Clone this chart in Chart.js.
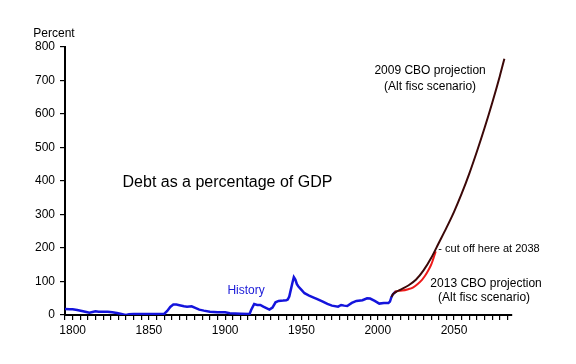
<!DOCTYPE html>
<html>
<head>
<meta charset="utf-8">
<script src="https://cdn.jsdelivr.net/npm/chart.js@4"></script>
<style>
  body { margin: 0; background: #fff; }
  canvas { display: block; }
</style>
</head>
<body>
<canvas id="debtChart" width="576" height="364"></canvas>
<script>
// history: debt as % of GDP
const historyYears = [1795, 1798, 1800, 1803, 1806, 1809, 1811, 1813, 1815, 1817, 1820, 1823, 1826, 1829, 1832, 1834, 1835, 1837, 1840, 1845, 1850, 1855, 1860, 1862, 1864, 1866, 1868, 1870, 1873, 1875, 1878, 1880, 1883, 1886, 1890, 1895, 1900, 1903, 1910, 1916, 1917, 1919, 1921, 1923, 1925, 1929, 1931, 1933, 1935, 1938, 1940, 1941, 1942, 1943, 1944, 1945, 1946, 1947, 1948, 1950, 1952, 1955, 1958, 1960, 1964, 1967, 1970, 1974, 1976, 1978, 1980, 1983, 1986, 1990, 1993, 1995, 1998, 2001, 2004, 2007, 2008, 2009, 2010, 2011, 2012];
const historyValues = [18, 17, 17, 15, 12, 9, 7, 9, 11, 10, 10, 10, 8, 6, 3, 1, 0, 2, 3, 3, 3, 3, 3, 12, 24, 31, 31, 29, 26, 25, 26, 22, 16, 13, 10, 8, 8, 5, 4, 3, 15, 33, 30, 30, 25, 16, 22, 38, 42, 43, 44, 46, 55, 75, 95, 113, 106, 92, 85, 75, 65, 58, 52, 48, 40, 33, 28, 25, 30, 28, 27, 36, 42, 44, 50, 49, 42, 34, 36, 36, 40, 54, 62, 67, 71];

// 2009 CBO projection (alt fiscal scenario)
const cbo2009Years = [2009, 2010, 2012, 2015, 2020, 2025, 2030, 2035, 2040, 2045, 2050, 2055, 2060, 2065, 2070, 2075, 2080, 2083];
const cbo2009Values = [54, 62, 69, 76, 88, 105, 133, 170, 215, 260, 308, 362, 422, 488, 558, 633, 713, 765];

// 2013 CBO projection (alt fiscal scenario), cut off at 2038
const cbo2013Years = [2011, 2013, 2016, 2020, 2023, 2026, 2029, 2031, 2033, 2035, 2036, 2037, 2038];
const cbo2013Values = [68, 72, 73, 77, 82, 92, 105, 117, 132, 150, 162, 176, 190];

const yTicks = [0, 100, 200, 300, 400, 500, 600, 700, 800];

const FONT = "'Liberation Sans', Arial, sans-serif";

function toPoints(xs, ys) {
    return xs.map((x, i) => ({ x: x, y: ys[i] }));
}

// text labels placed in data coordinates
const notes = [
    { text: "Debt as a percentage of GDP", x: 1901.5, y: 394, size: 16, color: "#000", align: "center" },
    { text: "History", x: 1913.7, y: 72, size: 12, color: "#1a1ad8", align: "center" },
    { text: "2009 CBO projection", x: 2034.3, y: 728, size: 12, color: "#000", align: "center" },
    { text: "(Alt fisc scenario)", x: 2034.3, y: 681, size: 12, color: "#000", align: "center" },
    { text: "- cut off here at 2038", x: 2039.7, y: 196, size: 11, color: "#000", align: "left" },
    { text: "2013 CBO projection", x: 2071, y: 92, size: 12, color: "#000", align: "center" },
    { text: "(Alt fisc scenario)", x: 2069.7, y: 52, size: 12, color: "#000", align: "center" }
];

const notesPlugin = {
    id: "notes",
    afterDraw(chart) {
        const ctx = chart.ctx;
        const xs = chart.scales.x, ys = chart.scales.y;
        ctx.save();
        ctx.textBaseline = "middle";
        notes.forEach(n => {
            ctx.font = n.size + "px " + FONT;
            ctx.fillStyle = n.color;
            ctx.textAlign = n.align;
            ctx.fillText(n.text, xs.getPixelForValue(n.x), ys.getPixelForValue(n.y));
        });
        // axis title above the y axis
        ctx.font = "12px " + FONT;
        ctx.fillStyle = "#000";
        ctx.textAlign = "center";
        ctx.fillText("Percent", chart.chartArea.left - 11, chart.chartArea.top - 13);
        ctx.restore();
    }
};

const ctx = document.getElementById("debtChart").getContext("2d");
new Chart(ctx, {
    type: "line",
    data: {
        datasets: [
            {
                label: "2013 CBO projection",
                data: toPoints(cbo2013Years, cbo2013Values),
                borderColor: "#ee1a1a",
                borderWidth: 2,
                cubicInterpolationMode: "monotone",
                order: 2
            },
            {
                label: "2009 CBO projection",
                data: toPoints(cbo2009Years, cbo2009Values),
                borderColor: "#3c0808",
                borderWidth: 2,
                cubicInterpolationMode: "monotone",
                order: 1
            },
            {
                label: "History",
                data: toPoints(historyYears, historyValues),
                borderColor: "#1414dc",
                borderWidth: 2.5,
                tension: 0,
                order: 3
            }
        ]
    },
    options: {
        responsive: false,
        animation: false,
        layout: { padding: { top: 47, right: 64, left: 0, bottom: 0 } },
        elements: {
            point: { radius: 0 },
            line: { fill: false }
        },
        plugins: {
            legend: { display: false },
            tooltip: { enabled: false }
        },
        scales: {
            x: {
                type: "linear",
                min: 1795,
                max: 2088,
                afterFit: s => { s.height = 49; },
                border: { display: true, color: "#000", width: 2 },
                grid: { drawOnChartArea: false, tickLength: 5, color: "#000", lineWidth: 1.2 },
                ticks: {
                    stepSize: 5,
                    includeBounds: false,
                    autoSkip: false,
                    maxRotation: 0,
                    padding: 3,
                    color: "#000",
                    font: { family: FONT, size: 12 },
                    callback: v => (v % 50 === 0 ? String(v) : "")
                }
            },
            y: {
                min: 0,
                max: 800,
                afterFit: s => { s.width = 65; },
                afterBuildTicks: s => { s.ticks = yTicks.map(v => ({ value: v })); },
                border: { display: true, color: "#000", width: 2 },
                grid: { drawOnChartArea: false, tickLength: 5, color: "#000", lineWidth: 1.2 },
                ticks: {
                    padding: 5,
                    color: "#000",
                    font: { family: FONT, size: 12 }
                }
            }
        }
    },
    plugins: [notesPlugin]
});
</script>
</body>
</html>
